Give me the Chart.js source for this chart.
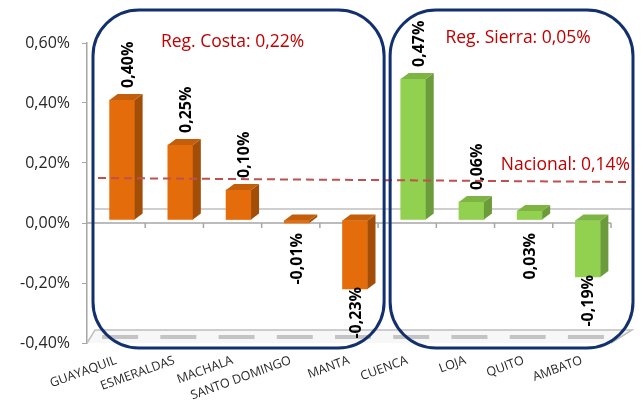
<!DOCTYPE html>
<html>
<head>
<meta charset="utf-8">
<script src="https://cdn.jsdelivr.net/npm/chart.js@4.4.1/dist/chart.umd.min.js"></script>
<style>
  body { margin: 0; background: #fff; }
  #contenedor { width: 643px; height: 403px; position: relative; }
</style>
</head>
<body>
<div id="contenedor"><canvas id="grafico"></canvas></div>
<script>
// Datos
const ciudades = ['GUAYAQUIL', 'ESMERALDAS', 'MACHALA', 'SANTO DOMINGO', 'MANTA', 'CUENCA', 'LOJA', 'QUITO', 'AMBATO'];
const variaciones = [0.40, 0.25, 0.10, -0.01, -0.23, 0.47, 0.06, 0.03, -0.19];
const regiones = ['costa', 'costa', 'costa', 'costa', 'costa', 'sierra', 'sierra', 'sierra', 'sierra'];
const promedioCosta = 0.22;
const promedioSierra = 0.05;
const promedioNacional = 0.14;
const ejeYMin = -0.40;
const ejeYMax = 0.60;
const ejeYPaso = 0.20;

const colores = {
    costa: { frente: '#E46C0A', lado: '#A24E08', arriba: '#C45E0B' },
    sierra: { frente: '#92D050', lado: '#6B9B3A', arriba: '#7DB443' }
};
const DX = 8, DY = 6;          // profundidad 3d
const MOVX = 6, MOVY = -3;     // desplazamiento de las barras
const azul = '#13306E';
const rojo = '#C00000';

function formato(v) {
    return v.toFixed(2).replace('.', ',') + '%';
}

function cajaRedondeada(ctx, x, y, w, h, r) {
    ctx.beginPath();
    ctx.moveTo(x + r, y);
    ctx.lineTo(x + w - r, y);
    ctx.arcTo(x + w, y, x + w, y + r, r);
    ctx.lineTo(x + w, y + h - r);
    ctx.arcTo(x + w, y + h, x + w - r, y + h, r);
    ctx.lineTo(x + r, y + h);
    ctx.arcTo(x, y + h, x, y + h - r, r);
    ctx.lineTo(x, y + r);
    ctx.arcTo(x, y, x + r, y, r);
    ctx.closePath();
    ctx.stroke();
}

const barras3d = {
    id: 'barras3d',
    beforeDatasetsDraw(chart) {
        const { ctx, chartArea: a, scales: { y } } = chart;
        const y0 = y.getPixelForValue(0);
        const ancho = (a.right - a.left) / ciudades.length;
        ctx.save();
        // piso
        ctx.fillStyle = '#F7F7F7';
        ctx.beginPath();
        ctx.moveTo(a.left, a.bottom);
        ctx.lineTo(a.right, a.bottom);
        ctx.lineTo(a.right + 21, a.bottom - 13);
        ctx.lineTo(a.left + 8, a.bottom - 13);
        ctx.closePath();
        ctx.fill();
        ctx.strokeStyle = '#BFBFBF';
        ctx.lineWidth = 1.5;
        ctx.beginPath();
        ctx.moveTo(a.left, a.bottom);
        ctx.lineTo(a.left + 8, a.bottom - 13);
        ctx.lineTo(a.right + 21, a.bottom - 13);
        ctx.lineTo(a.right, a.bottom);
        ctx.stroke();
        // sombras en el piso
        ctx.strokeStyle = '#C4C4C4';
        ctx.lineWidth = 4;
        chart.getDatasetMeta(0).data.forEach(barra => {
            ctx.beginPath();
            ctx.moveTo(barra.x - 14, a.bottom - 6);
            ctx.lineTo(barra.x + 22, a.bottom - 6);
            ctx.stroke();
        });
        // linea cero del fondo
        ctx.strokeStyle = '#BFBFBF';
        ctx.lineWidth = 1.5;
        ctx.beginPath();
        ctx.moveTo(a.left + 8, y0 - 14);
        ctx.lineTo(a.right + 21, y0 - 14);
        ctx.stroke();
        // eje cero con marcas
        ctx.strokeStyle = '#A6A6A6';
        ctx.beginPath();
        ctx.moveTo(a.left, y0);
        ctx.lineTo(a.right, y0);
        for (let i = 1; i <= ciudades.length; i++) {
            ctx.moveTo(a.left + i * ancho, y0);
            ctx.lineTo(a.left + i * ancho, y0 + 5);
        }
        ctx.stroke();
        ctx.restore();
        ctx.save();
        ctx.translate(MOVX, MOVY);
    },
    afterDatasetsDraw(chart) {
        const { ctx, chartArea: a, scales: { x, y } } = chart;
        const meta = chart.getDatasetMeta(0);
        meta.data.forEach((barra, i) => {
            const { x: cx, y: vy, base, width } = barra.getProps(['x', 'y', 'base', 'width'], true);
            const c = colores[regiones[i]];
            const izq = cx - width / 2, der = cx + width / 2;
            const arriba = Math.min(vy, base), abajo = Math.max(vy, base);
            ctx.fillStyle = c.lado;
            ctx.beginPath();
            ctx.moveTo(der, arriba);
            ctx.lineTo(der + DX, arriba - DY);
            ctx.lineTo(der + DX, abajo - DY);
            ctx.lineTo(der, abajo);
            ctx.closePath();
            ctx.fill();
            ctx.fillStyle = c.arriba;
            ctx.beginPath();
            ctx.moveTo(izq, arriba);
            ctx.lineTo(izq + DX, arriba - DY);
            ctx.lineTo(der + DX, arriba - DY);
            ctx.lineTo(der, arriba);
            ctx.closePath();
            ctx.fill();
        });
        ctx.restore();

        const y0 = y.getPixelForValue(0);
        ctx.save();
        // linea nacional
        const yn = y.getPixelForValue(promedioNacional);
        ctx.strokeStyle = '#C0504D';
        ctx.lineWidth = 2;
        ctx.setLineDash([8, 5]);
        ctx.beginPath();
        ctx.moveTo(a.left + 11, yn - 3);
        ctx.lineTo(a.right + 16, yn + 1);
        ctx.stroke();
        ctx.setLineDash([]);

        // cajas de regiones
        const ancho = (a.right - a.left) / ciudades.length;
        const finCosta = regiones.lastIndexOf('costa') + 1;
        ctx.strokeStyle = azul;
        ctx.lineWidth = 3;
        cajaRedondeada(ctx, a.left + 6, 10, finCosta * ancho, a.bottom + 5 - 10, 46);
        cajaRedondeada(ctx, a.left + finCosta * ancho + 12, 10, a.right + 22 - (a.left + finCosta * ancho + 12), a.bottom + 5 - 10, 46);

        // etiquetas de valores
        ctx.fillStyle = '#000';
        ctx.font = 'bold 16px "Open Sans"';
        ctx.textBaseline = 'middle';
        meta.data.forEach((barra, i) => {
            const v = variaciones[i];
            const cx = barra.x + MOVX;
            const abajoTexto = v < 0 || ciudades[i] === 'QUITO';
            ctx.save();
            if (abajoTexto) {
                const inicio = Math.max(barra.y + MOVY - 2, y0 + 10);
                ctx.translate(cx + 1, inicio);
                ctx.rotate(-Math.PI / 2);
                ctx.textAlign = 'right';
            } else {
                ctx.translate(cx + 6, barra.y + MOVY - DY - 6);
                ctx.rotate(-Math.PI / 2);
                ctx.textAlign = 'left';
            }
            ctx.fillText(formato(v), 0, 0);
            ctx.restore();
        });

        // promedios
        ctx.fillStyle = rojo;
        ctx.font = '17.5px "Open Sans"';
        ctx.textBaseline = 'middle';
        ctx.textAlign = 'center';
        ctx.fillText('Reg. Costa: ' + formato(promedioCosta), a.left + (finCosta * ancho) / 2, 42);
        ctx.fillText('Reg. Sierra: ' + formato(promedioSierra), a.left + finCosta * ancho + 140, 38);
        ctx.textAlign = 'right';
        ctx.fillText('Nacional: ' + formato(promedioNacional), a.right + 19, yn - 16);
        ctx.restore();
    }
};

const grafico = new Chart(document.getElementById('grafico'), {
    type: 'bar',
    data: {
        labels: ciudades,
        datasets: [{
            data: variaciones,
            backgroundColor: regiones.map(r => colores[r].frente),
            barThickness: 25
        }]
    },
    options: {
        responsive: true,
        maintainAspectRatio: false,
        animation: false,
        layout: { padding: { top: 43, right: 32, left: 0, bottom: 0 } },
        plugins: { legend: { display: false }, tooltip: { enabled: false } },
        scales: {
            x: {
                grid: { display: false, drawTicks: false },
                border: { display: false },
                ticks: {
                    minRotation: 20,
                    maxRotation: 20,
                    autoSkip: false,
                    padding: 10,
                    color: '#262626',
                    font: { family: 'Open Sans', size: 12.5 }
                },
                afterFit: escala => { escala.height = 60; }
            },
            y: {
                min: ejeYMin,
                max: ejeYMax,
                grid: { drawOnChartArea: false, color: '#A6A6A6', tickLength: 5 },
                border: { color: '#A6A6A6', width: 1.5 },
                ticks: {
                    stepSize: ejeYPaso,
                    padding: 12,
                    color: '#262626',
                    font: { family: 'Open Sans', size: 16 },
                    callback: v => formato(v)
                },
                afterFit: escala => { escala.width = 87; }
            }
        }
    },
    plugins: [barras3d]
});
</script>
</body>
</html>
